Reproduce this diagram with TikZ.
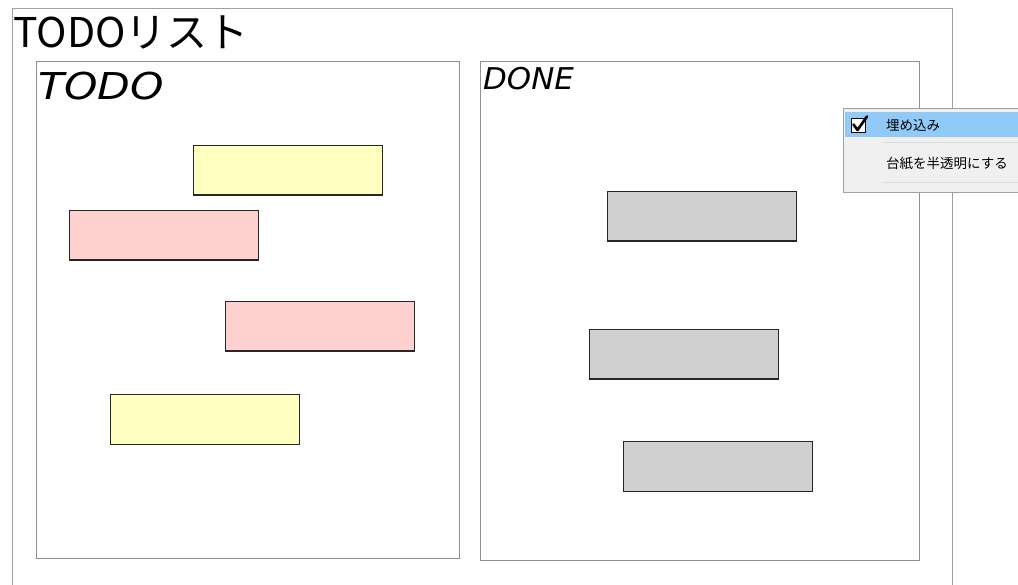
\documentclass[tikz,border=0pt]{standalone}
\usepackage{fontspec}
\newfontfamily\jp{Noto Sans CJK JP}
\newfontfamily\hand{DejaVu Sans}
\definecolor{noteyellow}{HTML}{FFFFC0}
\definecolor{notepink}{HTML}{FFD0D0}
\definecolor{notegray}{HTML}{D0D0D0}
\definecolor{framegray}{HTML}{A0A0A0}
\definecolor{panelgray}{HTML}{909090}
\definecolor{menubg}{HTML}{F0F0F0}
\definecolor{menuhl}{HTML}{91C9F7}
\definecolor{menusep}{HTML}{DCDCDC}
\definecolor{menuborder}{HTML}{A0A0A0}
\tikzset{
  note/.style={draw=black!85, line width=1.2pt, minimum width=188.5pt, minimum height=49.5pt, anchor=north west, inner sep=0pt},
  panel/.style={draw=panelgray, line width=0.9pt, fill=white},
  menutext/.style={anchor=west, inner sep=0pt, font=\jp\fontsize{13.5pt}{15pt}\selectfont},
}
\begin{document}
\begin{tikzpicture}[x=1pt,y=-1pt]
\useasboundingbox[fill=white] (0,0) rectangle (1018,585);
% outer frame
\draw[framegray, line width=1pt] (12,600) -- (12,9) -- (952,9) -- (952,600);
\node[anchor=base west, inner sep=0pt, font=\jp\fontsize{41pt}{44pt}\selectfont] (title) at (13,48) {TODOリスト};
% panels
\draw[panel] (36,61) rectangle (459,558);
\draw[panel] (480,61) rectangle (919,560);
\node[anchor=base west, inner sep=0pt, font=\hand\itshape\fontsize{37pt}{40pt}\selectfont] (todo) at (38,100) {\scalebox{1.15}[1]{TODO}};
\node[anchor=base west, inner sep=0pt, font=\hand\itshape\fontsize{30pt}{32pt}\selectfont] (done) at (483,90) {\scalebox{1.03}[1]{DONE}};
% notes
\node[note, fill=noteyellow] (y1) at (193,145) {};
\node[note, fill=notepink] (p1) at (69,210) {};
\node[note, fill=notepink] (p2) at (225,301) {};
\node[note, fill=noteyellow] (y2) at (110,394) {};
\node[note, fill=notegray] (g1) at (607,191) {};
\node[note, fill=notegray] (g2) at (589,329) {};
\node[note, fill=notegray] (g3) at (623,441) {};
% context menu
\draw[menuborder, fill=menubg, line width=0.8pt] (1030,108) -- (843,108) -- (843,192) -- (1030,192);
\fill[menuhl] (845,112) rectangle (1030,137);
\draw[menusep, line width=0.8pt] (883,142) -- (1030,142);
\draw[menusep, line width=0.8pt] (883,182) -- (1030,182);
\draw[black, line width=0.9pt, fill=white] (851,118) rectangle (865,132);
\draw[black, line width=2.6pt, line cap=round, line join=round] (853.5,124.5) -- (857.5,130) -- (867,116.5);
\node[menutext] (m1) at (886,125) {埋め込み};
\node[menutext] (m2) at (886,163) {台紙を半透明にする};
\end{tikzpicture}
\end{document}
